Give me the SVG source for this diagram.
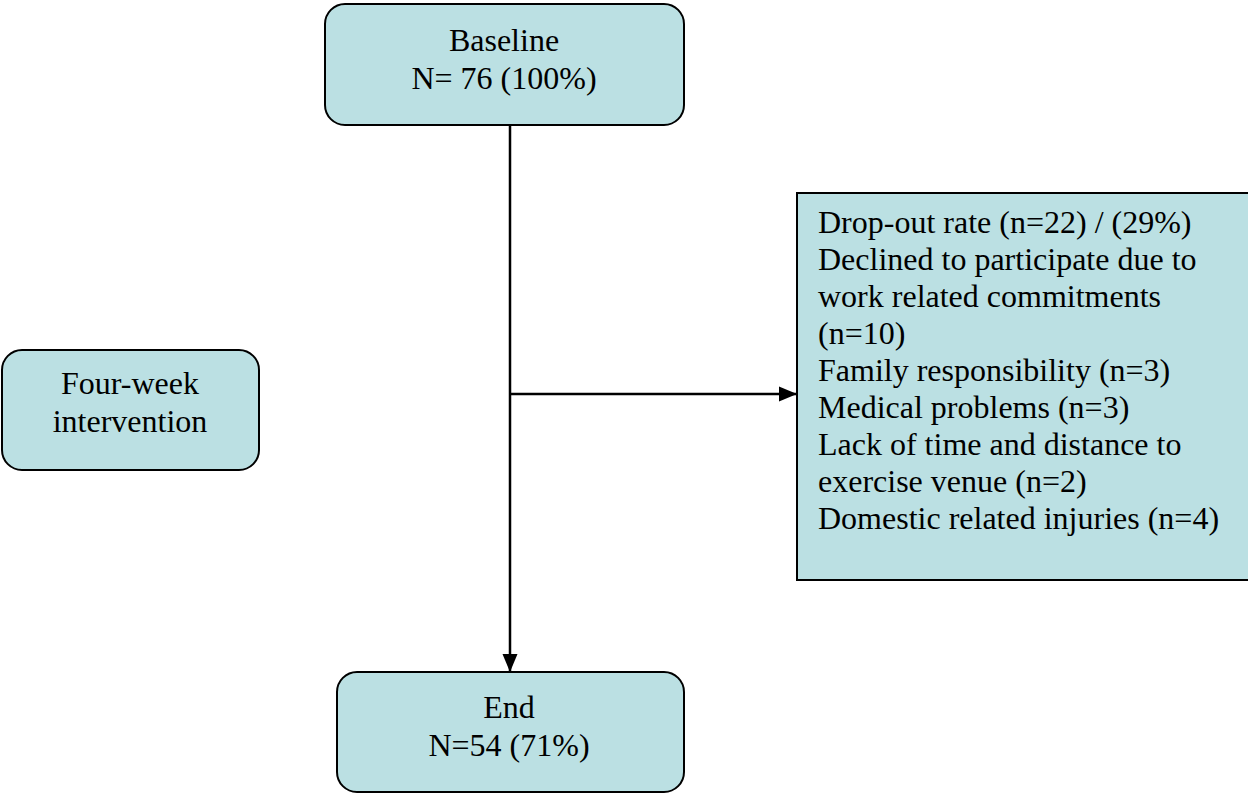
<svg xmlns="http://www.w3.org/2000/svg" width="1248" height="794" viewBox="0 0 1248 794">
<style>
.box{fill:#bbe0e3;stroke:#000;stroke-width:2}
.t{font-family:"Liberation Serif","Times New Roman",serif;font-size:32px;fill:#000}
.c{text-anchor:middle}
.ln{stroke:#000;stroke-width:2.5;fill:none}
</style>
<defs>
<marker id="ah2" markerWidth="18" markerHeight="16" refX="17" refY="7.5" orient="auto" markerUnits="userSpaceOnUse" viewBox="0 0 18 15">
<path d="M0,0 L18,7.5 L0,15 Z" fill="#000"/>
</marker>
</defs>
<g id="connectors">
<line class="ln" x1="510" y1="125" x2="510" y2="671" marker-end="url(#ah2)"/>
<line class="ln" x1="510" y1="394" x2="796" y2="394" marker-end="url(#ah2)"/>
</g>
<g id="baseline">
<rect class="box" x="325" y="4" width="359" height="121" rx="20"/>
<text class="t c" x="504" y="51">Baseline</text>
<text class="t c" x="504" y="89">N= 76 (100%)</text>
</g>
<g id="intervention">
<rect class="box" x="2" y="350" width="257" height="120" rx="20"/>
<text class="t c" x="130" y="394">Four-week</text>
<text class="t c" x="130" y="432">intervention</text>
</g>
<g id="dropout">
<rect class="box" x="797" y="193" width="460" height="387"/>
<text class="t" x="818" y="233">Drop-out rate (n=22) / (29%)</text>
<text class="t" x="818" y="270">Declined to participate due to</text>
<text class="t" x="818" y="307">work related commitments</text>
<text class="t" x="818" y="344">(n=10)</text>
<text class="t" x="818" y="381">Family responsibility (n=3)</text>
<text class="t" x="818" y="418">Medical problems (n=3)</text>
<text class="t" x="818" y="455">Lack of time and distance to</text>
<text class="t" x="818" y="492">exercise venue (n=2)</text>
<text class="t" x="818" y="529">Domestic related injuries (n=4)</text>
</g>
<g id="end">
<rect class="box" x="337" y="672" width="347" height="120" rx="20"/>
<text class="t c" x="509" y="718">End</text>
<text class="t c" x="509" y="756">N=54 (71%)</text>
</g>
</svg>
